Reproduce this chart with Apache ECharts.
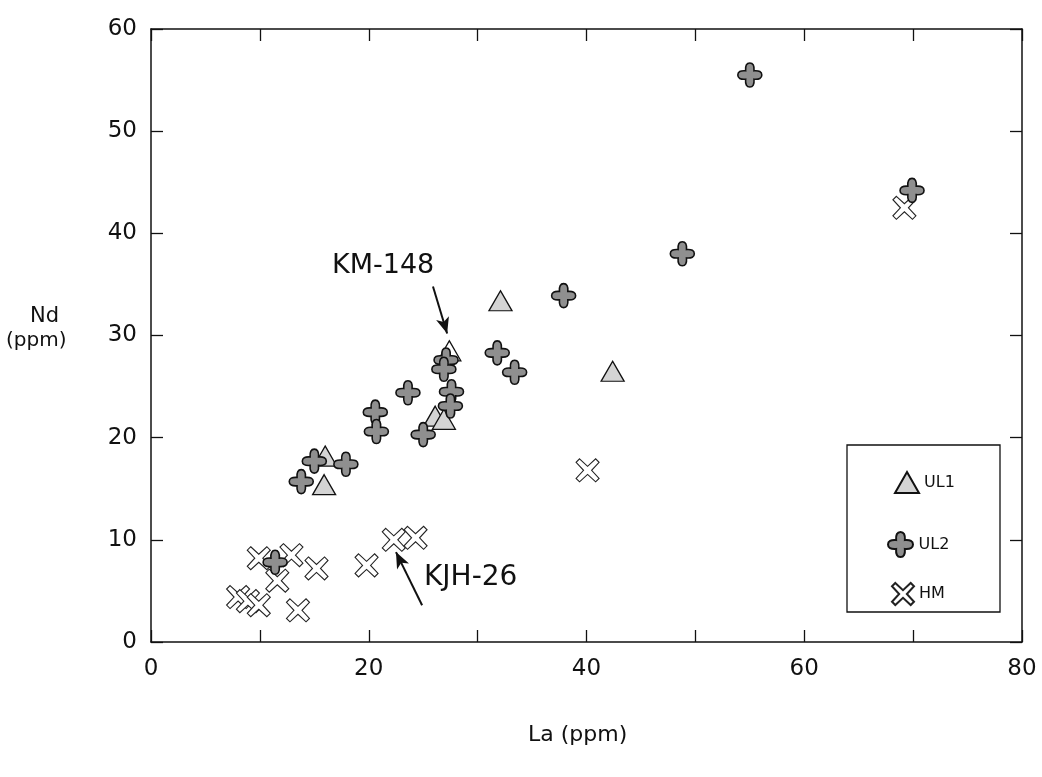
<!DOCTYPE html>
<html>
<head>
<meta charset="utf-8">
<script src="https://cdn.jsdelivr.net/npm/echarts@6/dist/echarts.min.js"></script>
<style>html,body{margin:0;padding:0;background:#fff;}#c{width:1042px;height:777px;}</style>
</head>
<body>
<div id="c"></div>
<script>
// ---- data (La ppm, Nd ppm) ----
const xTickLabels = [0, 20, 40, 60, 80];
const yTickLabels = [0, 10, 20, 30, 40, 50, 60];

const ul1La = [32.1, 27.4, 26.1, 26.9, 16.0, 15.9, 42.4];
const ul1Nd = [33.4, 28.5, 22.1, 21.8, 18.2, 15.4, 26.5];
const ul1Open = [false, true, false, false, false, false, false]; // KM-148 drawn unfilled

const ul2La = [55.0, 69.9, 48.8, 37.9, 31.8, 33.4, 27.1, 26.9, 23.6, 27.6, 27.5, 20.6, 20.7, 25.0, 15.0, 17.9, 13.8, 11.4];
const ul2Nd = [55.5, 44.2, 38.0, 33.9, 28.3, 26.4, 27.6, 26.7, 24.4, 24.5, 23.1, 22.5, 20.6, 20.3, 17.7, 17.4, 15.7, 7.8];

const hmLa = [69.2, 40.1, 9.9, 12.9, 15.2, 11.6, 8.0, 8.9, 9.9, 13.5, 19.8, 22.3, 24.3];
const hmNd = [42.5, 16.8, 8.2, 8.5, 7.2, 6.0, 4.4, 4.0, 3.6, 3.1, 7.5, 10.0, 10.2];

// annotation arrows: [fromLa, fromNd, toLa, toNd]
const arrowKM148 = [25.9, 34.8, 27.2, 30.2];
const arrowKJH26 = [24.9, 3.6, 22.5, 8.8];

// ---- symbols ----
const symCross = 'path://M6.5,6.5 Q6,0 10,0 Q14,0 13.5,6.5 Q20,6 20,10 Q20,14 13.5,13.5 Q14,20 10,20 Q6,20 6.5,13.5 Q0,14 0,10 Q0,6 6.5,6.5 Z';
const symX = 'path://M3,0 L10,6.5 L17,0 L20,3 L13.5,10 L20,17 L17,20 L10,13.5 L3,20 L0,17 L6.5,10 L0,3 Z';

const font = 'DejaVu Sans';
const zip = (a, b) => a.map((v, i) => [v, b[i]]);

const ul1Data = ul1La.map((v, i) => ul1Open[i]
  ? { value: [v, ul1Nd[i]], itemStyle: { color: '#ffffff' } }
  : { value: [v, ul1Nd[i]] });

const chart = echarts.init(document.getElementById('c'), null, { renderer: 'canvas' });

const axisCommon = {
  type: 'value',
  axisLine: { show: true, onZero: false, lineStyle: { color: '#111', width: 1.5 } },
  axisTick: { show: true, inside: true, length: 12, lineStyle: { color: '#111', width: 1.3 } },
  splitLine: { show: false }
};

chart.setOption({
  animation: false,
  backgroundColor: '#ffffff',
  grid: { left: 151, right: 20, top: 29, bottom: 135 },
  xAxis: [
    Object.assign({}, axisCommon, {
      min: 0, max: 80, interval: 10, position: 'bottom',
      axisLabel: {
        margin: 16, color: '#111', fontFamily: font, fontSize: 23,
        formatter: v => xTickLabels.indexOf(v) >= 0 ? String(v) : ''
      }
    }),
    Object.assign({}, axisCommon, {
      min: 0, max: 80, interval: 10, position: 'top', axisLabel: { show: false }
    })
  ],
  yAxis: [
    Object.assign({}, axisCommon, {
      min: 0, max: 60, interval: 10, position: 'left',
      axisLabel: {
        margin: 14, color: '#111', fontFamily: font, fontSize: 23,
        formatter: v => yTickLabels.indexOf(v) >= 0 ? String(v) : ''
      }
    }),
    Object.assign({}, axisCommon, {
      min: 0, max: 60, interval: 10, position: 'right', axisLabel: { show: false }
    })
  ],
  legend: [
    { data: ['UL1'], left: 889, top: 466, itemWidth: 24, itemHeight: 21, itemGap: 8,
      textStyle: { fontFamily: font, fontSize: 16, color: '#111' }, selectedMode: false },
    { data: ['UL2'], left: 882, top: 526, itemWidth: 26, itemHeight: 25, itemGap: 8,
      textStyle: { fontFamily: font, fontSize: 16, color: '#111' }, selectedMode: false },
    { data: ['HM'], left: 886, top: 577, itemWidth: 22, itemHeight: 22, itemGap: 8,
      textStyle: { fontFamily: font, fontSize: 16, color: '#111' }, selectedMode: false }
  ],
  graphic: [
    { type: 'rect', z: 0, shape: { x: 847, y: 445, width: 153, height: 167 },
      style: { fill: '#ffffff', stroke: '#111', lineWidth: 1.3 } },
    { type: 'text', x: 30, y: 306, style: { text: 'Nd', fontFamily: font, fontSize: 21, fill: '#111' } },
    { type: 'text', x: 6, y: 331, style: { text: '(ppm)', fontFamily: font, fontSize: 20, fill: '#111' } },
    { type: 'text', x: 528, y: 724, style: { text: 'La (ppm)', fontFamily: font, fontSize: 22, fill: '#111' } },
    { type: 'text', x: 332, y: 252, style: { text: 'KM-148', fontFamily: font, fontSize: 27, fill: '#111' } },
    { type: 'text', x: 424, y: 564, style: { text: 'KJH-26', fontFamily: font, fontSize: 28, fill: '#111' } }
  ],
  series: [
    {
      name: 'HM', type: 'scatter', z: 2,
      symbol: symX, symbolSize: 23,
      itemStyle: { color: '#ffffff', borderColor: '#222', borderWidth: 1.1, opacity: 1 },
      data: zip(hmLa, hmNd)
    },
    {
      name: 'UL1', type: 'scatter', z: 3,
      symbol: 'triangle', symbolSize: [23, 20],
      itemStyle: { color: '#d4d4d4', borderColor: '#111', borderWidth: 1.3, opacity: 1 },
      data: ul1Data,
      markLine: {
        silent: true, symbol: ['none', 'arrow'], symbolSize: [10, 16],
        lineStyle: { color: '#111', width: 2, type: 'solid' },
        label: { show: false },
        data: [
          [{ coord: [arrowKM148[0], arrowKM148[1]] }, { coord: [arrowKM148[2], arrowKM148[3]] }],
          [{ coord: [arrowKJH26[0], arrowKJH26[1]] }, { coord: [arrowKJH26[2], arrowKJH26[3]] }]
        ]
      }
    },
    {
      name: 'UL2', type: 'scatter', z: 4,
      symbol: symCross, symbolSize: 24,
      itemStyle: { color: '#8f8f8f', borderColor: '#111', borderWidth: 1.6, opacity: 1 },
      data: zip(ul2La, ul2Nd)
    }
  ]
});
</script>
</body>
</html>
